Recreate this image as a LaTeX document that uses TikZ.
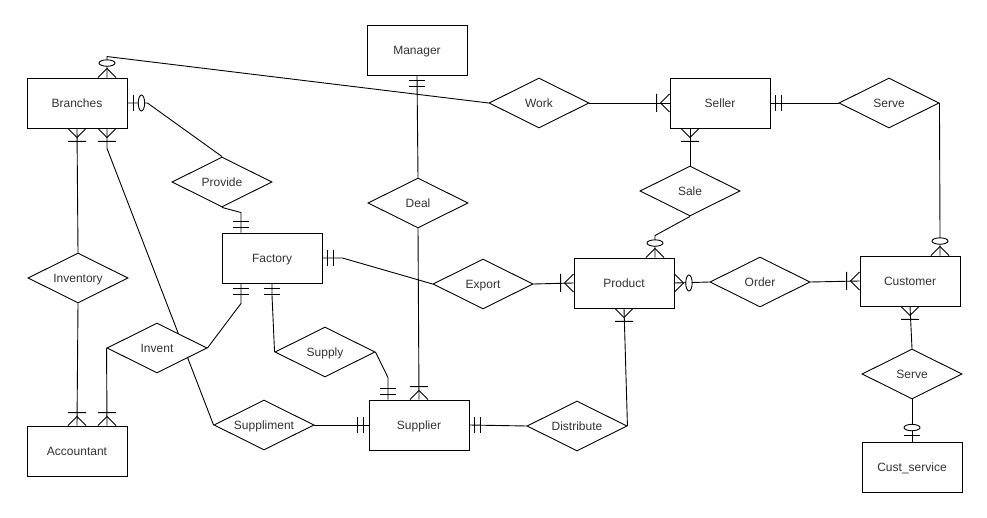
\documentclass[tikz,border=0pt]{standalone}
\usepackage{fontspec}
\setmainfont{Liberation Sans}
\usetikzlibrary{shapes.geometric}
\pgfdeclarelayer{paper}
\pgfdeclarelayer{bg}
\pgfsetlayers{paper,bg,main}
\tikzset{
  ent/.style={draw, line width=0.9pt, fill=white, minimum width=100pt, minimum height=50pt, inner sep=0pt, text height=8.6pt, text depth=0pt, font=\fontsize{12}{14}\selectfont, text=black!80},
  rel/.style={diamond, aspect=2, draw, line width=0.9pt, fill=white, minimum width=100pt, minimum height=50pt, inner sep=0pt, text height=8.6pt, text depth=0pt, font=\fontsize{12}{14}\selectfont, text=black!80},
  conn/.style={draw, line width=0.9pt},
  dirU/.style={x={(0pt,1pt)},y={(1pt,0pt)}},
  dirD/.style={x={(0pt,-1pt)},y={(1pt,0pt)}},
  dirR/.style={x={(1pt,0pt)},y={(0pt,1pt)}},
  dirL/.style={x={(-1pt,0pt)},y={(0pt,1pt)}},
  mk/.style={line width=0.9pt}
}
\newcommand\mOneMany[2]{\begin{scope}[shift={(#1)},#2]\draw[mk] (0,-9)--(9,0)--(0,9) (13,-9)--(13,9);\end{scope}}
\newcommand\mMandOne[2]{\begin{scope}[shift={(#1)},#2]\draw[mk] (5,-8)--(5,8) (11,-8)--(11,8);\end{scope}}
\newcommand\mZeroMany[2]{\begin{scope}[shift={(#1)},#2]\draw[mk] (0,-9)--(9,0)--(0,9);\draw[mk,fill=white] (14.5,0) ellipse [x radius=3.2,y radius=8];\end{scope}}
\newcommand\mZeroOne[2]{\begin{scope}[shift={(#1)},#2]\draw[mk] (6,-8)--(6,8);\draw[mk,fill=white] (14,0) ellipse [x radius=3.2,y radius=8];\end{scope}}
\begin{document}
\begin{tikzpicture}[x=1pt,y=-1pt]
\begin{pgfonlayer}{paper}
\path[fill=white,use as bounding box] (0,0) rectangle (987,518);
\end{pgfonlayer}
% entities
\node[ent] (br)   at (77,103)  {Branches};
\node[ent] (mgr)  at (417,50)  {Manager};
\node[ent] (sel)  at (720,103) {Seller};
\node[ent] (fac)  at (272,258) {Factory};
\node[ent] (acc)  at (77,451)  {Accountant};
\node[ent] (spl)  at (419,425) {Supplier};
\node[ent] (prod) at (624,283) {Product};
\node[ent] (cust) at (910,281) {Customer};
\node[ent] (cs)   at (912,467) {Cust\_service};
% relationships
\node[rel] (prov) at (222,182) {Provide};
\node[rel] (work) at (539,103) {Work};
\node[rel] (deal) at (418,203) {Deal};
\node[rel] (sale) at (690,191) {Sale};
\node[rel] (srva) at (889,103) {Serve};
\node[rel] (inv)  at (78,278)  {Inventory};
\node[rel] (invt) at (157,348) {Invent};
\node[rel] (supy) at (325,352) {Supply};
\node[rel] (supm) at (264,425) {Suppliment};
\node[rel] (exp)  at (483,284) {Export};
\node[rel] (dist) at (577,426) {Distribute};
\node[rel] (ord)  at (760,282) {Order};
\node[rel] (srvb) at (912,374) {Serve};
% attachment points
\coordinate (bT)  at ([xshift=30pt]br.north);
\coordinate (bB2) at ([xshift=30pt]br.south);
\coordinate (fT)  at ([xshift=-31pt]fac.north);
\coordinate (fB1) at ([xshift=-31pt]fac.south);
\coordinate (aB2) at ([xshift=30pt]acc.north);
\coordinate (sT1) at ([xshift=-31pt]spl.north);
\coordinate (sB)  at ([xshift=-30pt]sel.south);
\coordinate (pT)  at ([xshift=31pt]prod.north);
\coordinate (cT)  at ([xshift=30pt]cust.north);
\begin{pgfonlayer}{bg}
\path[conn] (bT) -- ++(0,-21) -- (work.west);
\path[conn] (br.east) -- ++(20,0) -- (prov.north);
\path[conn] (prov.south) -- ([yshift=20pt]fT) -- (fT);
\path[conn] (br.south) -- (inv.north);
\path[conn] (inv.south) -- (acc.north);
\path[conn] (bB2) -- ++(0,20) -- (supm.west);
\path[conn] (fB1) -- ++(0,20) -- (invt.east);
\path[conn] (invt.west) -- (aB2);
\path[conn] (fac.south) -- ++(0,12) -- (supy.west);
\path[conn] (supy.east) -- ([yshift=22pt]sT1) -- (sT1);
\path[conn] (mgr.south) -- (deal.north);
\path[conn] (deal.south) -- (spl.north);
\path[conn] (fac.east) -- ++(20,0) -- (exp.west);
\path[conn] (exp.east) -- (prod.west);
\path[conn] (supm.east) -- (spl.west);
\path[conn] (spl.east) -- (dist.west);
\path[conn] (dist.east) -- (prod.south);
\path[conn] (work.east) -- (sel.west);
\path[conn] (sel.east) -- (srva.west);
\path[conn] (sB) -- (sale.north);
\path[conn] (sale.south) -- ([yshift=22pt]pT) -- (pT);
\path[conn] (srva.east) -- ([yshift=20pt]cT) -- (cT);
\path[conn] (prod.east) -- (ord.west);
\path[conn] (ord.east) -- (cust.west);
\path[conn] (cust.south) -- (srvb.north);
\path[conn] (srvb.south) -- (cs.north);
% markers
\mZeroMany{bT}{dirU}
\mZeroOne{br.east}{dirR}
\mMandOne{fT}{dirU}
\mOneMany{br.south}{dirD}
\mOneMany{acc.north}{dirU}
\mOneMany{bB2}{dirD}
\mMandOne{fB1}{dirD}
\mOneMany{aB2}{dirU}
\mMandOne{fac.south}{dirD}
\mMandOne{sT1}{dirU}
\mMandOne{mgr.south}{dirD}
\mOneMany{spl.north}{dirU}
\mMandOne{fac.east}{dirR}
\mOneMany{prod.west}{dirL}
\mMandOne{spl.west}{dirL}
\mMandOne{spl.east}{dirR}
\mOneMany{prod.south}{dirD}
\mOneMany{sel.west}{dirL}
\mMandOne{sel.east}{dirR}
\mOneMany{sB}{dirD}
\mZeroMany{pT}{dirU}
\mZeroMany{cT}{dirU}
\mZeroMany{prod.east}{dirR}
\mOneMany{cust.west}{dirL}
\mOneMany{cust.south}{dirD}
\mZeroOne{cs.north}{dirU}
\end{pgfonlayer}
\end{tikzpicture}
\end{document}
